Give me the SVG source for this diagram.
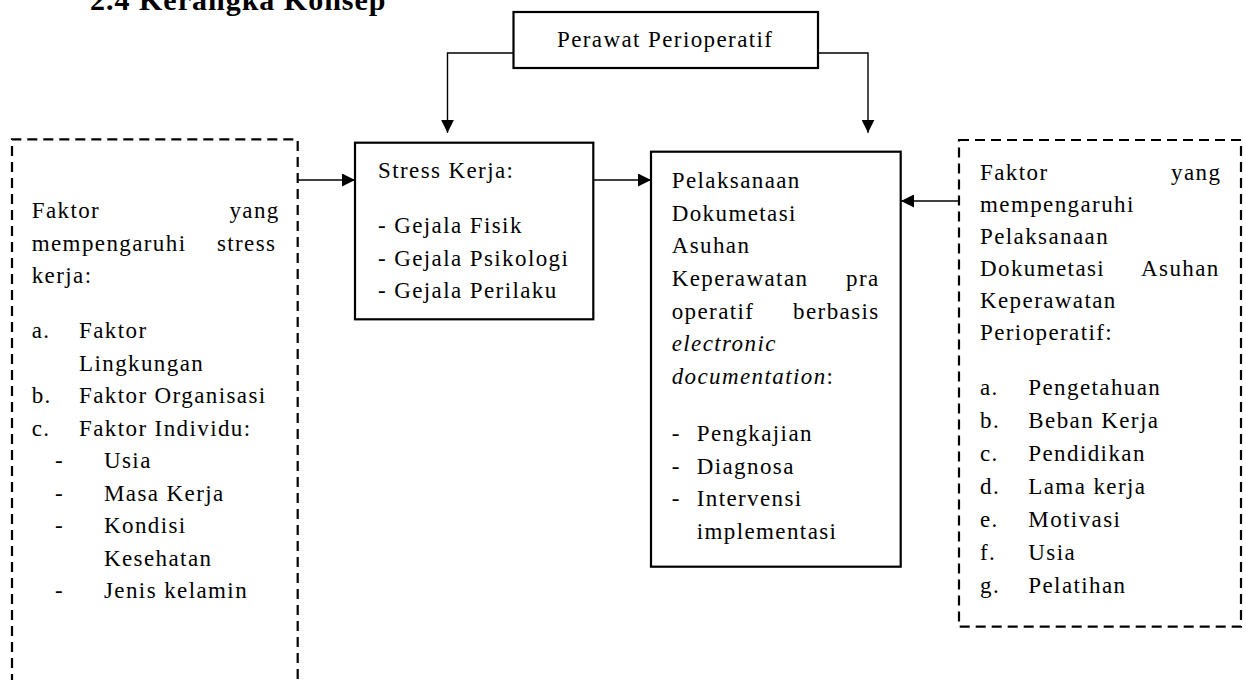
<svg xmlns="http://www.w3.org/2000/svg" width="1246" height="680" viewBox="0 0 1246 680">
<defs>
<marker id="ah" viewBox="0 0 13 13" refX="13" refY="6.5" markerWidth="13" markerHeight="13" orient="auto" markerUnits="userSpaceOnUse">
<path d="M0,0 L13,6.5 L0,13 z" fill="#000"/>
</marker>
<style>
text{font-family:"Liberation Serif","Times New Roman",serif;font-size:23px;letter-spacing:1.4px;fill:#000}
.title{font-weight:bold;font-size:30px;letter-spacing:1px}
.box{fill:#fff;stroke:#000;stroke-width:2.2}
.dash{fill:none;stroke:#000;stroke-width:2.2;stroke-dasharray:10 6}
.conn{fill:none;stroke:#000;stroke-width:1.4;marker-end:url(#ah)}
.it{font-style:italic}
.end{text-anchor:end}
</style>
</defs>
<rect width="1246" height="680" fill="#fff"/>
<text class="title" x="90" y="10">2.4 Kerangka Konsep</text>

<g id="connectors">
<path class="conn" d="M513.5,53 H447.5 V132.7"/>
<path class="conn" d="M818,53 H868 V132.7"/>
<path class="conn" d="M298,180 H355"/>
<path class="conn" d="M593.3,180 H651"/>
<path class="conn" d="M959,201 H901"/>
</g>

<g id="perawat">
<rect class="box" x="513.5" y="12" width="304.5" height="56"/>
<text x="557" y="47">Perawat Perioperatif</text>
</g>

<g id="faktor-stress">
<path class="dash" d="M12,700 V139.3 H297.7 V700"/>
<text x="31.7" y="218">Faktor</text>
<text class="end" x="279.7" y="218">yang</text>
<text x="31.7" y="250.5">mempengaruhi</text>
<text class="end" x="276.4" y="250.5">stress</text>
<text x="31.7" y="283">kerja:</text>
<text x="31.7" y="338">a.</text><text x="79" y="338">Faktor</text>
<text x="79" y="370.5">Lingkungan</text>
<text x="31.7" y="403">b.</text><text x="79" y="403">Faktor Organisasi</text>
<text x="31.7" y="435.5">c.</text><text x="79" y="435.5">Faktor Individu:</text>
<text x="55" y="468">-</text><text x="104" y="468">Usia</text>
<text x="55" y="500.5">-</text><text x="104" y="500.5">Masa Kerja</text>
<text x="55" y="533">-</text><text x="104" y="533">Kondisi</text>
<text x="104" y="565.5">Kesehatan</text>
<text x="55" y="598">-</text><text x="104" y="598">Jenis kelamin</text>
</g>

<g id="stress-kerja">
<rect class="box" x="355" y="142.7" width="238.3" height="176.6"/>
<text x="378" y="178.3">Stress Kerja:</text>
<text x="378" y="233.3">- Gejala Fisik</text>
<text x="378" y="265.8">- Gejala Psikologi</text>
<text x="378" y="298.3">- Gejala Perilaku</text>
</g>

<g id="pelaksanaan">
<rect class="box" x="651" y="151.7" width="249.7" height="415"/>
<text x="671.7" y="188">Pelaksanaan</text>
<text x="671.7" y="220.7">Dokumetasi</text>
<text x="671.7" y="253.3">Asuhan</text>
<text x="671.7" y="286">Keperawatan</text>
<text class="end" x="879.7" y="286">pra</text>
<text x="671.7" y="318.7">operatif</text>
<text class="end" x="879.7" y="318.7">berbasis</text>
<text class="it" x="671.7" y="351.3">electronic</text>
<text x="671.7" y="384"><tspan class="it">documentation</tspan>:</text>
<text x="671.7" y="441">-</text><text x="696.7" y="441">Pengkajian</text>
<text x="671.7" y="473.5">-</text><text x="696.7" y="473.5">Diagnosa</text>
<text x="671.7" y="506">-</text><text x="696.7" y="506">Intervensi</text>
<text x="696.7" y="538.5">implementasi</text>
</g>

<g id="faktor-dokumentasi">
<rect class="dash" x="959" y="140" width="282" height="486.7"/>
<text x="980" y="180">Faktor</text>
<text class="end" x="1221.4" y="180">yang</text>
<text x="980" y="212">mempengaruhi</text>
<text x="980" y="244">Pelaksanaan</text>
<text x="980" y="276">Dokumetasi</text>
<text class="end" x="1219.7" y="276">Asuhan</text>
<text x="980" y="308">Keperawatan</text>
<text x="980" y="340">Perioperatif:</text>
<text x="980" y="395">a.</text><text x="1028.3" y="395">Pengetahuan</text>
<text x="980" y="428">b.</text><text x="1028.3" y="428">Beban Kerja</text>
<text x="980" y="461">c.</text><text x="1028.3" y="461">Pendidikan</text>
<text x="980" y="494">d.</text><text x="1028.3" y="494">Lama kerja</text>
<text x="980" y="527">e.</text><text x="1028.3" y="527">Motivasi</text>
<text x="980" y="560">f.</text><text x="1028.3" y="560">Usia</text>
<text x="980" y="593">g.</text><text x="1028.3" y="593">Pelatihan</text>
</g>
</svg>
